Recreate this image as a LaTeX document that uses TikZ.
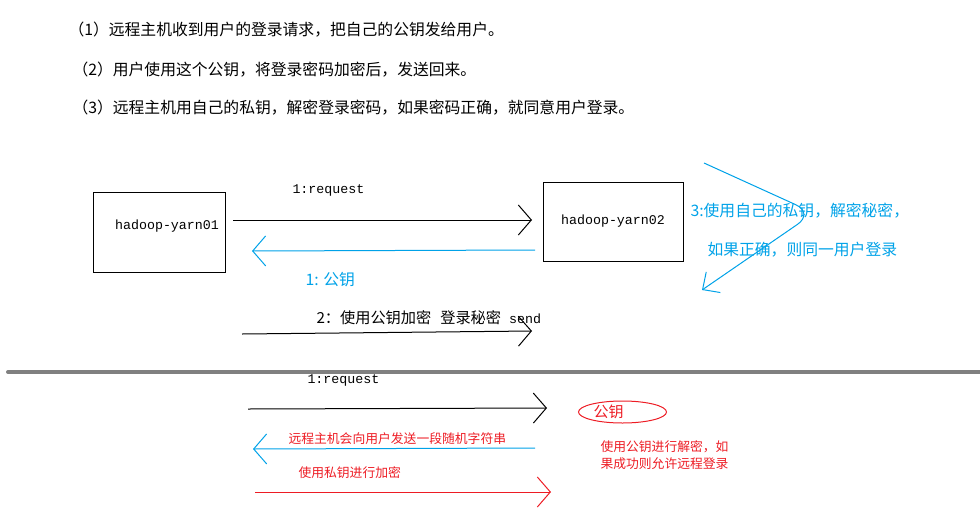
\documentclass[tikz,border=0pt]{standalone}
\usepackage{fontspec}
\setmainfont{Liberation Mono}
\newfontfamily\cjk{Noto Sans CJK SC}
\usetikzlibrary{arrows.meta, shapes.geometric, positioning}
\definecolor{paintblue}{HTML}{00A2E8}
\definecolor{paintred}{HTML}{ED1C24}
\definecolor{rulegray}{HTML}{808080}

\begin{document}
\begin{tikzpicture}[x=1pt, y=-1pt, line width=1pt,
    barb/.style={-{Straight Barb[length=13pt, width=30pt]}},
    hostbox/.style={draw, minimum width=132pt, minimum height=80pt, inner sep=0pt},
    monotext/.style={font=\fontsize{13.3}{16}\selectfont, inner sep=0pt},
    steptext/.style={font=\cjk\fontsize{15.8}{18}\selectfont, anchor=west, inner sep=0pt},
    redtext/.style={font=\cjk\fontsize{12.8}{17}\selectfont, anchor=west, inner sep=0pt, text=paintred, align=left}]
\useasboundingbox (0,0) rectangle (980,528);

% steps of the login
\node[steptext] (step1) at (68,30) {（1）远程主机收到用户的登录请求，把自己的公钥发给用户。};
\node[steptext] (step2) at (72,70) {（2）用户使用这个公钥，将登录密码加密后，发送回来。};
\node[steptext] (step3) at (72,108) {（3）远程主机用自己的私钥，解密登录密码，如果密码正确，就同意用户登录。};

% the two hosts
\node[hostbox] (box01) at (159,232) {};
\node[monotext] (name01) at ([xshift=8pt, yshift=6pt]box01.center) {hadoop-yarn01};
\node[hostbox, minimum width=140pt, minimum height=79pt, font=\fontsize{13.3}{16}\selectfont] (box02) at (613,221.5) {hadoop-yarn02};

\coordinate (reqa) at (233,220);  \coordinate (reqb) at (532,220);
\coordinate (keya) at (535,250);  \coordinate (keyb) at (252,251);
\coordinate (senda) at (242,334); \coordinate (sendb) at (532,331);
\coordinate (loopa) at (704,163); \coordinate (loopm) at (814,213); \coordinate (loopb) at (702,290);

\node[monotext, anchor=west] (req) at (292,190) {1:request};
\node[steptext, text=paintblue] (keylbl) at (305,280) {1: 公钥};
\node[steptext, font=\cjk\fontsize{15.2}{18}\selectfont] (sendlbl) at (316,318) {2：使用公钥加密\hspace{9pt}登录秘密\hspace{8pt}{\fontspec{Liberation Mono}\fontsize{13.3}{16}\selectfont send}};
\node[steptext, text=paintblue] (dec1) at (690,211) {3:使用自己的私钥，解密秘密，};
\node[steptext, text=paintblue] (dec2) at (707,250) {如果正确，则同一用户登录};

\foreach \a/\b/\c in {reqa/reqb/black, keya/keyb/paintblue, senda/sendb/black}
  \draw[barb, \c] (\a) -- (\b);
\draw[-{Straight Barb[length=13pt, width=25pt]}, paintblue, rounded corners=20pt] (loopa) -- (loopm) -- (loopb);

% separator
\coordinate (sepa) at (8,372); \coordinate (sepb) at (980,372);
\draw[rulegray, line width=4pt, line cap=round] (sepa) -- (sepb);

% second round
\coordinate (req2a) at (248,409);  \coordinate (req2b) at (547,408);
\coordinate (randa) at (535,448);  \coordinate (randb) at (253,449);
\coordinate (signa) at (255,492);  \coordinate (signb) at (551,492);

\node[monotext, anchor=west] (req2) at (307,380) {1:request};
\foreach \a/\b/\c in {req2a/req2b/black, randa/randb/paintblue, signa/signb/paintred}
  \draw[barb, \c] (\a) -- (\b);
\node[redtext] (randlbl) at (288,439) {远程主机会向用户发送一段随机字符串};
\node[redtext] (signlbl) at (298,473) {使用私钥进行加密};

\node[steptext, font=\cjk\fontsize{15}{18}\selectfont, text=paintred] (pubkey) at (593,412) {公钥};
\draw[paintred] ([xshift=14pt]pubkey.center) ellipse [x radius=44pt, y radius=11pt];
\node[redtext] (verify) at (600,455.5) {使用公钥进行解密，如\\果成功则允许远程登录};
\end{tikzpicture}
\end{document}
